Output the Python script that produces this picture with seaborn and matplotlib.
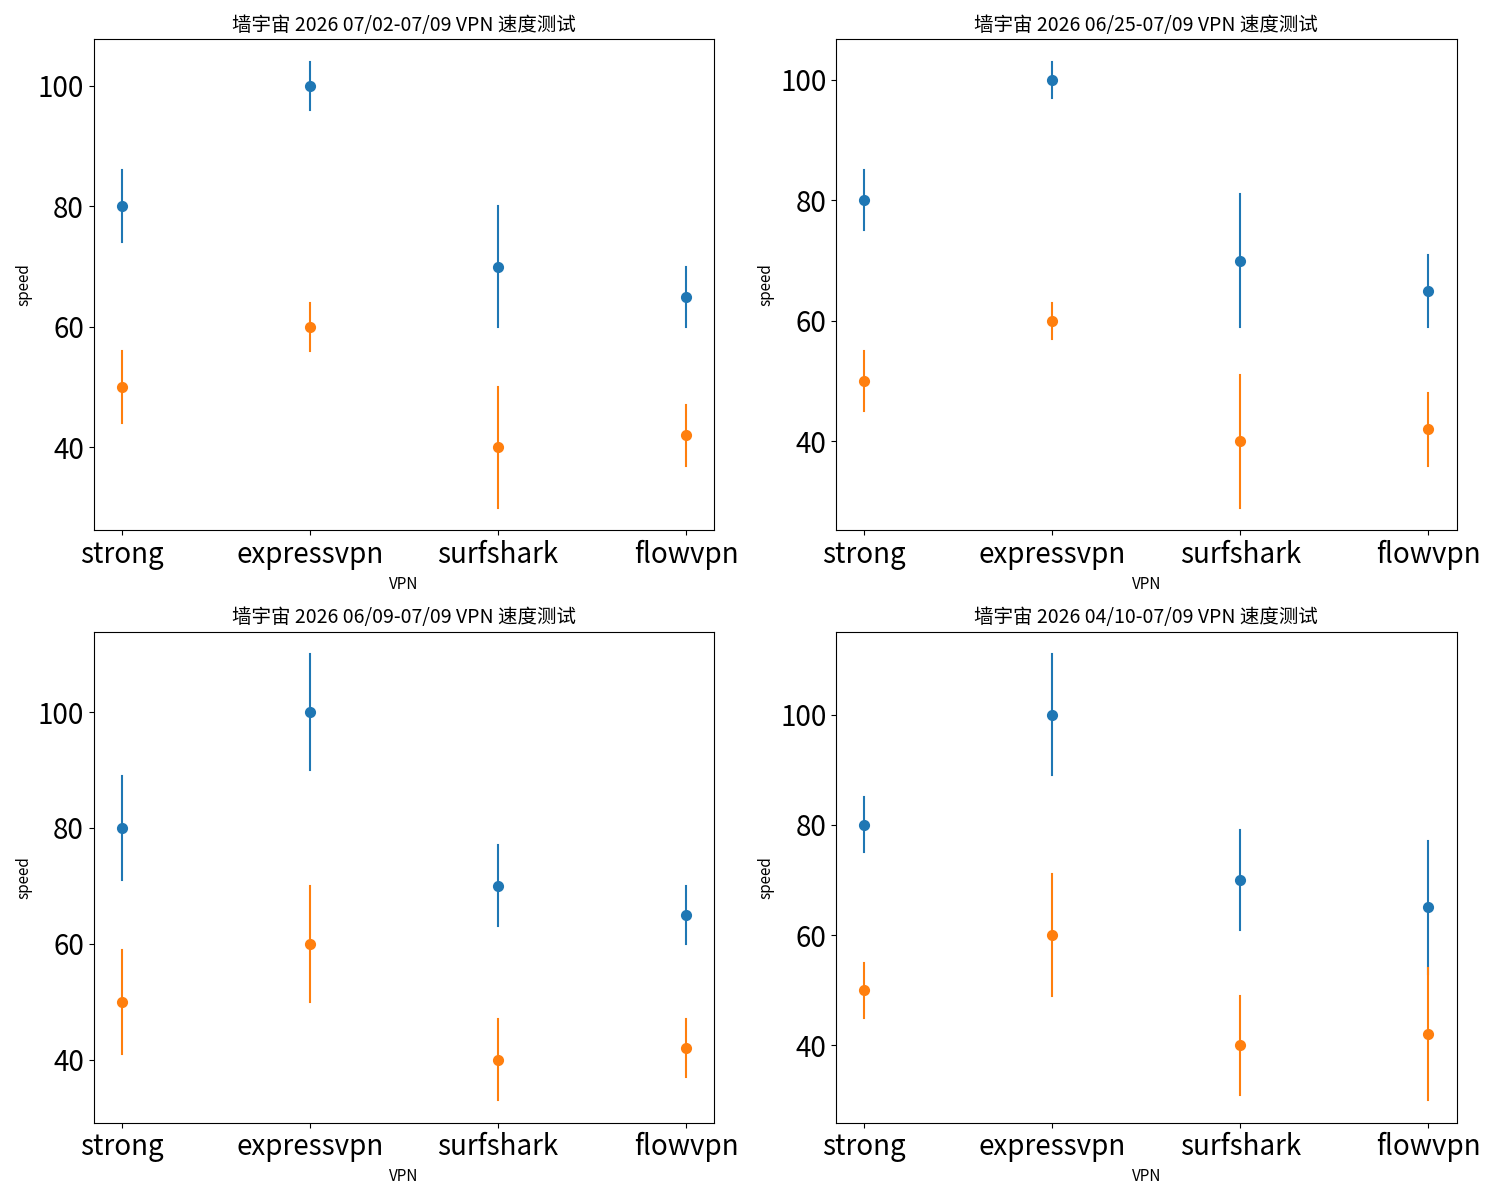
import pandas as pd
import matplotlib.pyplot as plt
import seaborn as sns
from matplotlib.ticker import MultipleLocator

plt.rcParams['font.family'] = ['Noto Sans CJK SC', 'DejaVu Sans']

# Data
vpns = ['strong', 'expressvpn', 'surfshark', 'flowvpn']
titles = ['墙宇宙 2026 07/02-07/09 VPN 速度测试',
          '墙宇宙 2026 06/25-07/09 VPN 速度测试',
          '墙宇宙 2026 06/09-07/09 VPN 速度测试',
          '墙宇宙 2026 04/10-07/09 VPN 速度测试']
speed_a = [80, 100, 70, 65]
speed_b = [50, 60, 40, 42]
err_a = [[6, 4, 10, 5], [5, 3, 11, 6], [9, 10, 7, 5], [5, 11, 9, 12]]
err_b = [[6, 4, 10, 5], [5, 3, 11, 6], [9, 10, 7, 5], [5, 11, 9, 12]]

fig, axes = plt.subplots(2, 2, figsize=(15, 12), dpi=100)

for i, ax in enumerate(axes.flat):
    # each point as its low/high pair so the min-max interval gives the bar
    rows = []
    for series, vals, errs in [('a', speed_a, err_a[i]), ('b', speed_b, err_b[i])]:
        for v, m, e in zip(vpns, vals, errs):
            rows.append({'VPN': v, 'speed': m - e, 'series': series})
            rows.append({'VPN': v, 'speed': m + e, 'series': series})
    df = pd.DataFrame(rows)
    sns.pointplot(data=df, x='VPN', y='speed', hue='series', order=vpns,
                  palette=['#1f77b4', '#ff7f0e'], estimator='mean',
                  errorbar=('pi', 100), linestyle='none', markers='o',
                  markersize=6, err_kws={'linewidth': 1.5}, legend=False, ax=ax)
    ax.set_xlim(-0.15, 3.15)
    ax.yaxis.set_major_locator(MultipleLocator(20))
    ax.set_title(titles[i], fontsize=14)
    ax.set_xlabel('VPN', fontsize=11)
    ax.set_ylabel('speed', fontsize=11)
    ax.tick_params(axis='both', labelsize=20)

plt.tight_layout()
plt.savefig('out.png')
